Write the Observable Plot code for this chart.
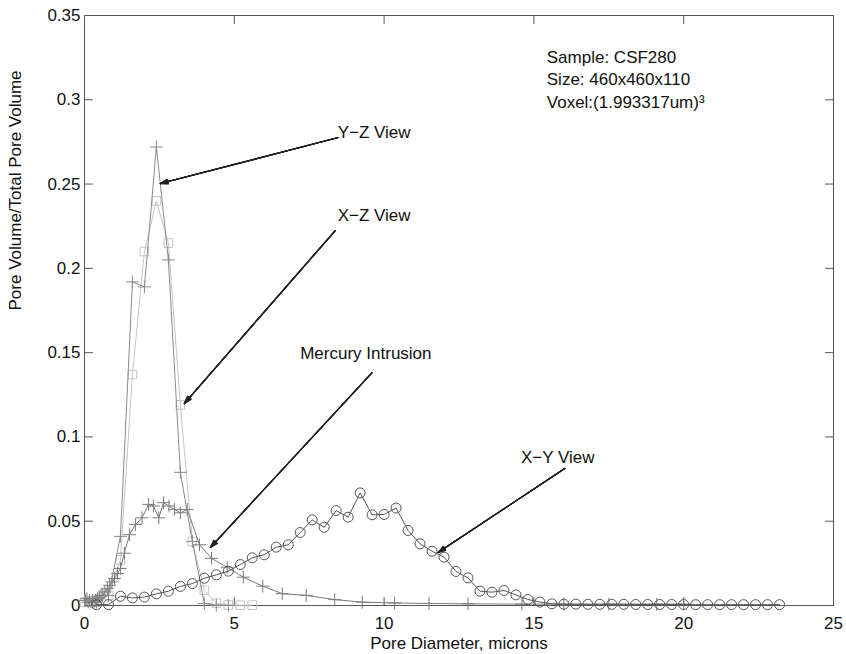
<!DOCTYPE html>
<html><head><meta charset="utf-8">
<script src="https://cdn.jsdelivr.net/npm/d3@7"></script>
<script src="https://cdn.jsdelivr.net/npm/@observablehq/plot@0.6"></script>
<style>
body{margin:0;background:#fff}
svg{font-family:"Liberation Sans",Arial,Helvetica,sans-serif}
</style>
</head><body><div id="chart"></div>
<script>
// ---- Data ----
const xyX = [0.4,0.8,1.2,1.6,2.0,2.4,2.8,3.2,3.6,4.0,4.4,4.8,5.2,5.6,6.0,6.4,6.8,7.2,7.6,8.0,8.4,8.8,9.2,9.6,10.0,10.4,10.8,11.2,11.6,12.0,12.4,12.8,13.2,13.6,14.0,14.4,14.8,15.2,15.6,16.0,16.4,16.8,17.2,17.6,18.0,18.4,18.8,19.2,19.6,20.0,20.4,20.8,21.2,21.6,22.0,22.4,22.8,23.2];
const xyY = [0.0005,0.0005,0.0055,0.0045,0.005,0.0069,0.0085,0.0113,0.013,0.0162,0.0182,0.0204,0.0243,0.0283,0.0301,0.0346,0.036,0.0433,0.0508,0.0464,0.0563,0.0524,0.0668,0.0538,0.054,0.0578,0.0445,0.0366,0.0322,0.0287,0.0202,0.0164,0.0085,0.0079,0.0089,0.0063,0.0036,0.002,0.0010,0.0008,0.0008,0.0007,0.0007,0.0007,0.0007,0.0006,0.0006,0.0006,0.0006,0.0006,0.0005,0.0005,0.0005,0.0005,0.0005,0.0005,0.0005,0.0005];

const hgX = [0.03,0.08,0.12,0.17,0.22,0.27,0.32,0.37,0.43,0.49,0.55,0.61,0.68,0.76,0.84,0.92,1.0,1.1,1.2,1.33,1.5,1.7,1.92,2.14,2.3,2.48,2.64,2.82,3.0,3.2,3.43,3.84,4.24,4.76,5.3,5.95,6.6,7.4,8.35,9.27,10.35,11.5,12.8,14.6,16.0,17.5,19.1,20.0];
const hgY = [0.003,0.004,0.002,0.003,0.002,0.003,0.002,0.003,0.004,0.005,0.006,0.006,0.008,0.010,0.012,0.014,0.016,0.019,0.022,0.031,0.042,0.048,0.052,0.060,0.059,0.052,0.061,0.059,0.057,0.055,0.057,0.036,0.028,0.0227,0.0168,0.0115,0.007,0.006,0.0035,0.002,0.0015,0.0012,0.001,0.0008,0.0008,0.0008,0.0008,0.0008];

const yzX = [0.0,0.4,0.8,1.2,1.6,2.0,2.4,2.8,3.2,3.6,4.0,4.4,4.8];
const yzY = [0.003,0.002,0.006,0.041,0.192,0.189,0.272,0.205,0.079,0.038,0.0012,0.0002,0.0001];

const xzX = [0.0,0.4,0.8,1.2,1.6,2.0,2.4,2.8,3.2,3.6,4.0,4.4,4.8,5.2,5.6];
const xzY = [0.002,0.002,0.006,0.027,0.137,0.21,0.24,0.215,0.119,0.038,0.009,0.0014,0.0003,0.0002,0.0002];

const xTicks = [0,5,10,15,20,25];
const xTickLabels = ["0","5","10","15","20","25"];
const yTicks = [0,0.05,0.1,0.15,0.2,0.25,0.3,0.35];
const yTickLabels = ["0","0.05","0.1","0.15","0.2","0.25","0.3","0.35"];

// annotations (data units)
const noteText = ["Y\u2212Z View","X\u2212Z View","Mercury Intrusion","X\u2212Y View"];
const noteX = [8.45, 8.45, 7.2, 14.57];
const noteY = [0.2805, 0.2313, 0.1495, 0.0878];
const arrowX1 = [8.47, 8.37, 9.6, 16.03];
const arrowY1 = [0.2776, 0.2224, 0.1382, 0.0813];
const arrowX2 = [2.53, 3.33, 4.2, 11.8];
const arrowY2 = [0.2503, 0.1198, 0.0344, 0.0314];

const infoText = ["Sample: CSF280","Size: 460x460x110","Voxel:(1.993317um)\u00B3"];
const infoX = [15.43, 15.43, 15.43];
const infoY = [0.3250, 0.3120, 0.2983];

// ---- build tables ----
const xy = xyX.map((x,i)=>({x, y: xyY[i]}));
const hg = hgX.map((x,i)=>({x, y: hgY[i]}));
const yz = yzX.map((x,i)=>({x, y: yzY[i]}));
const xz = xzX.map((x,i)=>({x, y: xzY[i]}));
const notes = noteText.map((t,i)=>({t, x: noteX[i], y: noteY[i]}));
const arrows = arrowX1.map((x1,i)=>({x1, y1: arrowY1[i], x2: arrowX2[i], y2: arrowY2[i]}));
const info = infoText.map((t,i)=>({t, x: infoX[i], y: infoY[i]}));

const FS = 17;
const AX = "#555";
const arrowHeads = [6,12,18,24,30,36].map(a => Plot.arrow(arrows, {x1:"x1", y1:"y1", x2:"x2", y2:"y2", stroke:"#222", strokeWidth:1.1, headLength:11, headAngle:a}));
const tickShape = {draw(context, l) { context.moveTo(0, 0); context.lineTo(0, -l); }};
const tickOpts = {length: 8, anchor: "start", shape: tickShape, stroke: AX, strokeWidth: 1};

const chart = Plot.plot({
  width: 846, height: 654,
  marginLeft: 84, marginRight: 13, marginTop: 15, marginBottom: 49,
  style: {fontSize: FS+"px", fontFamily: '"Liberation Sans", Arial, sans-serif', background: "#fff"},
  x: {domain: [0,25]},
  y: {domain: [0,0.35]},
  marks: [
    Plot.frame({stroke: AX}),
    // inward ticks on all four sides
    Plot.vector(xTicks, {x: d => d, frameAnchor: "bottom", rotate: 0, ...tickOpts}),
    Plot.vector(xTicks, {x: d => d, frameAnchor: "top", rotate: 180, ...tickOpts}),
    Plot.vector(yTicks, {y: d => d, frameAnchor: "left", rotate: 90, ...tickOpts}),
    Plot.vector(yTicks, {y: d => d, frameAnchor: "right", rotate: -90, ...tickOpts}),
    // tick labels
    Plot.axisX({anchor:"bottom", ticks: xTicks, tickSize:0, tickPadding:11, tickFormat: d => xTickLabels[xTicks.indexOf(d)], label:null, color:"#111", fontSize: FS}),
    Plot.axisY({anchor:"left", ticks: yTicks, tickSize:0, tickPadding:4, tickFormat: d => yTickLabels[yTicks.indexOf(d)], label:null, color:"#111", fontSize: FS}),
    // series
    Plot.line(xz, {x:"x", y:"y", stroke:"#c4c4c4", strokeWidth:1}),
    Plot.dot(xz, {x:"x", y:"y", symbol:"square2", r:5.5, stroke:"#c4c4c4", fill:"none", strokeWidth:1}),
    Plot.line(hg, {x:"x", y:"y", stroke:"#7a7a7a", strokeWidth:1}),
    Plot.dot(hg, {x:"x", y:"y", symbol:"plus", r:4.2, stroke:"#7a7a7a", strokeWidth:1}),
    Plot.line(yz, {x:"x", y:"y", stroke:"#8a8a8a", strokeWidth:1}),
    Plot.dot(yz, {x:"x", y:"y", symbol:"plus", r:4.2, stroke:"#8a8a8a", strokeWidth:1}),
    Plot.line(xy, {x:"x", y:"y", stroke:"#555", strokeWidth:1}),
    Plot.dot(xy, {x:"x", y:"y", symbol:"circle", r:5, stroke:"#555", fill:"none", strokeWidth:1}),
    // annotations
    ...arrowHeads,
    Plot.text(notes, {x:"x", y:"y", text:"t", textAnchor:"start", lineAnchor:"middle", fill:"#111", fontSize:FS}),
    Plot.text(info, {x:"x", y:"y", text:"t", textAnchor:"start", lineAnchor:"middle", fill:"#111", fontSize:FS}),
    // axis titles
    Plot.text(["Pore Diameter, microns"], {frameAnchor:"bottom", dy:38, lineAnchor:"middle", fill:"#111", fontSize:FS}),
    Plot.text(["Pore Volume/Total Pore Volume"], {frameAnchor:"left", dx:-69, rotate:-90, lineAnchor:"middle", fill:"#111", fontSize:FS})
  ]
});
document.getElementById("chart").appendChild(chart);
</script>
</body></html>
